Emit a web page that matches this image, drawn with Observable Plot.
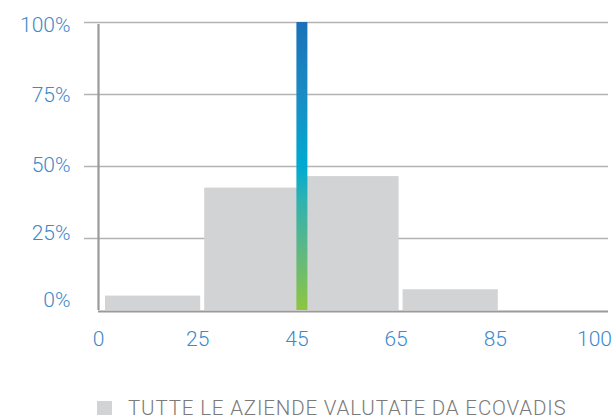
<!DOCTYPE html>
<html>
<head>
<meta charset="utf-8">
<script src="https://cdn.jsdelivr.net/npm/d3@7"></script>
<script src="https://cdn.jsdelivr.net/npm/@observablehq/plot@0.6"></script>
<style>
  body { margin: 0; background: #fff; font-family: Roboto, "Noto Sans", sans-serif; }
  #legend { display: flex; align-items: center; height: 24px; margin-top: 11px; padding-left: 97px;
            font-size: 20.5px; font-weight: 300; color: #7a7a7a; letter-spacing: 0.85px; white-space: nowrap; }
  #legend .sw { width: 15px; height: 14px; background: #d1d3d5; margin-right: 16px; flex: none; }
</style>
</head>
<body>
<div id="chart"></div>
<script>
// ---- data ----
const xTickLabels = ["0", "25", "45", "65", "85", "100"];
const binLabels = ["0-25", "25-45", "45-65", "65-85", "85-100"];
const binShares = [5, 42.5, 46.5, 7.2, 0];
const companyScore = "45";
const companyShare = 100;
const yTicks = [0, 25, 50, 75, 100];
const legendLabel = "TUTTE LE AZIENDE VALUTATE DA ECOVADIS";

// ---- build ----
const bins = binLabels.map((b, i) => ({bin: b, i, share: binShares[i]}));
const companyIndex = xTickLabels.indexOf(companyScore);
const blue = "#3d89ca";
const labelOffset = {0: -10, 25: -5.5, 50: -1.5, 75: 0.5, 100: 3};

const chart = Plot.plot({
  width: 615,
  height: 385,
  marginTop: 22,
  marginBottom: 75,
  marginLeft: 98,
  marginRight: 21,
  style: {fontFamily: "Roboto, sans-serif", fontSize: "21px", fontWeight: 300, background: "#fff"},
  x: {type: "linear", domain: [0, xTickLabels.length - 1], axis: null, label: null},
  y: {domain: [0, 100], axis: null, label: null},
  marks: [
    () => {
      const ns = "http://www.w3.org/2000/svg";
      const defs = document.createElementNS(ns, "defs");
      defs.innerHTML = `<linearGradient id="grad" x1="0" y1="0" x2="0" y2="1">
        <stop offset="0" stop-color="#1a71b8"/>
        <stop offset="0.25" stop-color="#1a8cc4"/>
        <stop offset="0.5" stop-color="#00aad0"/>
        <stop offset="0.62" stop-color="#2fb2b0"/>
        <stop offset="0.8" stop-color="#60b882"/>
        <stop offset="1" stop-color="#8dc63f"/>
      </linearGradient>`;
      return defs;
    },
    // gridlines
    Plot.ruleY(yTicks.filter(v => v > 0), {stroke: "#b3b3b3", strokeWidth: 1.5, insetLeft: -14, insetRight: -14}),
    // histogram bars
    Plot.rectY(bins, {x1: d => d.i, x2: d => d.i + 1, y1: 0, y2: "share", fill: "#d1d3d5", insetLeft: 7, insetRight: -3}),
    // company bar
    Plot.rectY([companyShare], {x1: companyIndex, x2: companyIndex, y1: 0, y2: d => d, fill: "url(#grad)", insetLeft: 0, insetRight: -11}),
    // axes lines
    Plot.ruleX([0], {y1: 0, y2: 100, stroke: "#9a9a9a", strokeWidth: 2.2, insetBottom: -2}),
    Plot.ruleY([0], {stroke: "#9a9a9a", strokeWidth: 2.2, dy: 1, insetRight: -14}),
    // x labels
    Plot.axisX(d3.range(xTickLabels.length), {tickFormat: i => xTickLabels[i], tickSize: 0, tickPadding: 21, fill: blue, fontSize: 21, fontWeight: 300, label: null}),
    // y labels
    ...yTicks.map(v => Plot.axisY([v], {tickFormat: d => d + "%", tickSize: 0, tickPadding: 28, dy: labelOffset[v], fill: blue, fontSize: 21, fontWeight: 300, label: null}))
  ]
});
document.getElementById("chart").appendChild(chart);

const legend = document.createElement("div");
legend.id = "legend";
legend.innerHTML = `<span class="sw"></span><span>${legendLabel}</span>`;
document.body.appendChild(legend);
</script>
</body>
</html>
